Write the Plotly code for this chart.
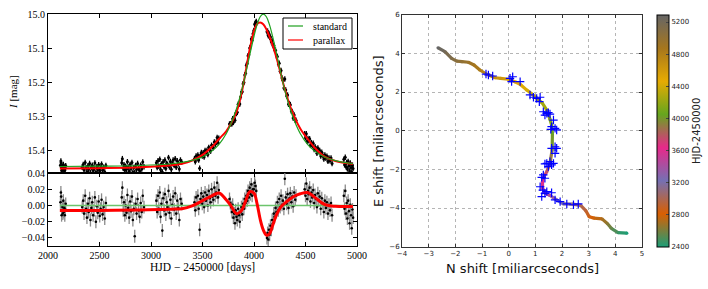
import plotly.graph_objects as go
from plotly.colors import sample_colorscale

W, H = 708, 289

# ---------------- light-curve models ----------------
model_t = [2115, 2500, 2900, 3200, 3300, 3400, 3500, 3590, 3660, 3730,
           3780, 3830, 3880, 3920, 3960, 4000, 4030, 4060, 4090, 4120,
           4150, 4180, 4220, 4260, 4300, 4350, 4400, 4450, 4520, 4590,
           4690, 4790, 4960]
model_standard = [15.446, 15.445, 15.443, 15.438, 15.434, 15.428, 15.418, 15.401, 15.381, 15.350,
                  15.318, 15.277, 15.224, 15.173, 15.118, 15.065, 15.031, 15.008, 15.000, 15.008,
                  15.031, 15.065, 15.118, 15.173, 15.224, 15.277, 15.318, 15.350, 15.381, 15.401,
                  15.419, 15.429, 15.438]
model_parallax = [15.452, 15.451, 15.4485, 15.4425, 15.438, 15.4285, 15.412, 15.389, 15.3655, 15.343,
                  15.319, 15.287, 15.230, 15.167, 15.101, 15.050, 15.029, 15.025, 15.030, 15.0445,
                  15.066, 15.090, 15.129, 15.175, 15.221, 15.269, 15.306, 15.3355, 15.365, 15.391,
                  15.418, 15.430, 15.439]
resid_parallax = [-0.0062, -0.0061, -0.0055, -0.0045, -0.0040, -0.0005, 0.0060, 0.0120, 0.0155, 0.0070,
                  -0.0010, -0.0100, -0.0060, 0.0060, 0.0170, 0.0150, 0.0020, -0.0170, -0.0300, -0.0365,
                  -0.0350, -0.0250, -0.0110, -0.0020, 0.0030, 0.0080, 0.0120, 0.0145, 0.0160, 0.0100,
                  0.0010, -0.0010, -0.0012]
resid_standard = [0.0] * len(model_t)

# ---------------- observations (per season) ----------------
s1_t = [2121, 2125, 2128, 2132, 2136, 2140, 2144, 2149, 2153, 2158, 2163, 2168, 2172]
s1_res = [0.004, 0.016, 0.011, -0.012, -0.006, -0.002, -0.010, 0.006, -0.008, -0.003, -0.012, -0.005, 0.002]
s1_mag = [15.442, 15.430, 15.435, 15.458, 15.452, 15.448, 15.456, 15.440, 15.454, 15.449, 15.458, 15.451, 15.444]

s2_t = [2332, 2342, 2350, 2361, 2370, 2378, 2388, 2395, 2404, 2412, 2421, 2430, 2438, 2447, 2455, 2465,
        2474, 2483, 2492, 2502, 2511, 2520, 2530, 2540, 2551, 2562]
s2_res = [-0.002, 0.006, -0.010, 0.012, -0.004, -0.015, 0.002, -0.008, 0.009, -0.018, -0.003, 0.004, -0.012,
          -0.006, 0.010, -0.020, -0.001, -0.009, 0.005, -0.013, -0.004, 0.007, -0.011, -0.002, -0.016, 0.003]
s2_mag = [15.448, 15.440, 15.456, 15.434, 15.450, 15.461, 15.444, 15.454, 15.437, 15.464, 15.449, 15.442, 15.458,
          15.452, 15.436, 15.463, 15.447, 15.455, 15.441, 15.459, 15.450, 15.439, 15.457, 15.448, 15.462, 15.443]

s3_t = [2716, 2722, 2730, 2738, 2746, 2754, 2762, 2771, 2779, 2788, 2797, 2806, 2815, 2824, 2833, 2842,
        2851, 2860, 2870, 2880, 2890, 2900, 2910, 2920, 2932]
s3_res = [0.010, 0.022, -0.006, 0.004, -0.012, 0.000, -0.009, 0.013, -0.003, -0.015, 0.005, -0.007, 0.011,
          -0.018, -0.004, -0.038, 0.002, -0.010, 0.008, -0.006, -0.014, 0.003, -0.008, 0.012, -0.002]
s3_mag = [15.435, 15.423, 15.451, 15.441, 15.457, 15.445, 15.454, 15.432, 15.448, 15.460, 15.440, 15.452, 15.434,
          15.463, 15.449, 15.464, 15.443, 15.455, 15.437, 15.451, 15.459, 15.442, 15.453, 15.433, 15.447]

s4_t = [3052, 3060, 3068, 3076, 3085, 3093, 3101, 3110, 3118, 3127, 3135, 3144, 3152, 3161, 3170, 3179,
        3188, 3197, 3206, 3215, 3225, 3235, 3245, 3255, 3265, 3275, 3286, 3298]
s4_res = [0.006, -0.008, 0.012, -0.004, 0.016, -0.014, 0.002, -0.031, 0.009, -0.006, 0.014, -0.011, 0.004,
          -0.002, 0.018, -0.009, 0.007, -0.016, 0.001, 0.011, -0.005, 0.015, -0.010, 0.006, -0.003, -0.018,
          0.008, 0.002]
s4_mag = [15.435, 15.449, 15.429, 15.445, 15.425, 15.455, 15.439, 15.462, 15.432, 15.447, 15.427, 15.452, 15.437,
          15.440, 15.420, 15.447, 15.431, 15.454, 15.437, 15.427, 15.443, 15.423, 15.448, 15.429, 15.438, 15.453,
          15.427, 15.433]

s5_t = [3422, 3430, 3438, 3446, 3455, 3463, 3472, 3480, 3489, 3498, 3507, 3516, 3525, 3534, 3543, 3552,
        3561, 3570, 3579, 3588, 3597, 3606, 3615, 3624, 3633, 3642, 3651, 3658]
s5_res = [0.004, -0.006, 0.010, 0.001, 0.012, -0.004, -0.030, 0.008, 0.015, 0.002, 0.011, -0.002, 0.016,
          0.006, 0.013, 0.000, 0.018, 0.009, 0.004, 0.020, 0.011, 0.007, 0.022, 0.012, 0.016, 0.028, 0.010, 0.019]
s5_mag = [15.423, 15.432, 15.415, 15.423, 15.412, 15.427, 15.451, 15.413, 15.405, 15.415, 15.406, 15.418, 15.399,
          15.406, 15.399, 15.411, 15.390, 15.397, 15.401, 15.384, 15.388, 15.391, 15.374, 15.381, 15.375, 15.361,
          15.376, 15.363]

s6_t = [3762, 3770, 3778, 3786, 3793, 3800, 3808, 3815, 3822, 3830, 3838, 3846, 3854, 3862, 3870, 3878,
        3886, 3894, 3902, 3910, 3918, 3926, 3934, 3942, 3950, 3958, 3966, 3974, 3982, 3990, 3998, 4006,
        4014, 4022]
s6_res = [0.008, 0.003, -0.002, -0.008, 0.001, -0.015, -0.010, -0.022, -0.006, -0.014, -0.018, -0.004, -0.012,
          -0.020, -0.008, -0.002, -0.011, 0.002, -0.004, 0.008, 0.003, 0.012, 0.006, 0.018, 0.010, 0.022, 0.014,
          0.026, 0.012, 0.020, 0.020, 0.028, 0.024, 0.018]
s6_mag = [15.322, 15.321, 15.321, 15.321, 15.306, 15.317, 15.305, 15.311, 15.290, 15.291, 15.287, 15.264, 15.264,
          15.263, 15.243, 15.228, 15.227, 15.204, 15.200, 15.178, 15.173, 15.150, 15.145, 15.122, 15.119, 15.099,
          15.096, 15.073, 15.077, 15.058, 15.048, 15.030, 15.025, 15.022]

s7_t = [4126, 4132, 4138, 4145, 4152, 4160, 4168, 4176, 4184, 4192, 4200, 4209, 4218, 4227, 4236, 4245,
        4254, 4263, 4272, 4281, 4290, 4299, 4308, 4317, 4326, 4335, 4344, 4353, 4362, 4371, 4380, 4390,
        4400, 4408]
s7_res = [-0.040, -0.034, -0.042, -0.030, -0.036, -0.025, -0.030, -0.018, -0.022, -0.010, -0.014, -0.003,
          -0.008, 0.004, -0.006, 0.008, -0.002, 0.012, 0.001, 0.006, -0.004, 0.033, 0.010, 0.002, 0.014,
          -0.003, 0.009, 0.015, 0.004, 0.011, -0.001, 0.016, 0.007, 0.012]
s7_mag = [15.052, 15.050, 15.063, 15.057, 15.069, 15.067, 15.081, 15.078, 15.092, 15.091, 15.105, 15.106,
          15.123, 15.124, 15.146, 15.144, 15.167, 15.165, 15.187, 15.194, 15.216, 15.190, 15.222, 15.240,
          15.237, 15.264, 15.262, 15.265, 15.284, 15.285, 15.304, 15.295, 15.311, 15.311]

s8_t = [4492, 4500, 4508, 4516, 4524, 4532, 4540, 4548, 4557, 4566, 4575, 4584, 4593, 4602, 4611, 4620,
        4629, 4638, 4648, 4658, 4668, 4678, 4688, 4698, 4708, 4718, 4728, 4738, 4748, 4758]
s8_res = [0.020, 0.012, 0.027, 0.008, 0.018, 0.014, 0.022, 0.005, 0.016, 0.010, 0.019, 0.003, 0.013, 0.008,
          -0.002, 0.015, 0.006, 0.011, -0.004, 0.009, 0.002, -0.008, 0.006, -0.003, 0.004, -0.010, 0.001,
          -0.006, 0.003, -0.012]
s8_mag = [15.350, 15.362, 15.350, 15.372, 15.364, 15.371, 15.365, 15.384, 15.376, 15.385, 15.378, 15.396,
          15.388, 15.395, 15.407, 15.392, 15.402, 15.399, 15.415, 15.404, 15.413, 15.424, 15.412, 15.422,
          15.416, 15.431, 15.421, 15.429, 15.421, 15.437]

s9_t = [4872, 4879, 4886, 4893, 4900, 4907, 4914, 4921, 4928, 4935, 4942, 4949, 4956, 4962]
s9_res = [0.012, -0.004, 0.018, -0.010, 0.003, -0.016, 0.006, -0.007, -0.022, 0.001, -0.012, -0.028, -0.005, -0.015]
s9_mag = [15.425, 15.441, 15.419, 15.447, 15.434, 15.453, 15.431, 15.444, 15.459, 15.436, 15.449, 15.463, 15.442, 15.452]

obs_t = s1_t + s2_t + s3_t + s4_t + s5_t + s6_t + s7_t + s8_t + s9_t
obs_mag = s1_mag + s2_mag + s3_mag + s4_mag + s5_mag + s6_mag + s7_mag + s8_mag + s9_mag
obs_res = s1_res + s2_res + s3_res + s4_res + s5_res + s6_res + s7_res + s8_res + s9_res

# ---------------- astrometric trajectory ----------------
traj_t = [2400, 2470, 2560, 2640, 2720, 2790, 2850, 2920, 3010, 3100, 3190, 3290, 3400, 3480,
          3560, 3630, 3690, 3760, 3850, 3960, 4060, 4110, 4160, 4220, 4270, 4320, 4370, 4410,
          4460, 4510, 4570, 4630, 4680, 4760, 4830, 4890, 4950, 5010, 5060, 5120, 5200, 5290]
traj_n = [4.43, 4.10, 3.85, 3.70, 3.50, 3.20, 3.02, 2.90, 2.70, 2.40, 2.05, 1.80, 1.55, 1.36,
          1.27, 1.27, 1.31, 1.43, 1.55, 1.63, 1.64, 1.61, 1.55, 1.43, 1.25, 1.05, 0.85, 0.68,
          0.45, 0.24, -0.01, -0.30, -0.51, -0.82, -1.08, -1.30, -1.51, -1.75, -1.95, -2.14, -2.39, -2.65]
traj_e = [-5.30, -5.27, -5.05, -4.80, -4.56, -4.52, -4.45, -4.15, -3.86, -3.80, -3.79, -3.58, -3.35, -3.22,
          -2.98, -2.62, -2.40, -2.12, -1.69, -1.00, -0.14, 0.30, 0.59, 1.07, 1.45, 1.68, 1.92, 2.10,
          2.38, 2.53, 2.66, 2.71, 2.74, 2.92, 3.14, 3.40, 3.54, 3.57, 3.60, 3.74, 4.09, 4.29]

astro_n = [-0.85, -0.76, -0.60, 0.05, 0.15, 0.11, 0.43, 0.80, 0.93, 1.05, 1.18, 1.15, 1.30, 1.43, 1.49,
           1.36, 1.55, 1.68, 1.61, 1.74, 1.58, 1.80, 1.74, 1.80, 1.61, 1.74, 1.43, 1.55, 1.61, 1.49,
           1.68, 1.36, 1.30, 1.36, 1.24, 1.18, 1.28, 1.36, 1.24, 1.43, 1.61, 1.74, 1.93, 2.18, 2.43, 2.61]
astro_e = [2.93, 2.88, 2.83, 2.71, 2.79, 2.54, 2.54, 1.85, 1.73, 1.67, 1.73, 1.50, 0.98, 0.90, 0.93,
           0.81, 0.86, 0.55, 0.21, 0.12, 0.07, 0.04, -0.83, -0.91, -0.91, -1.17, -1.69, -1.60, -1.77, -1.86,
           -1.69, -1.72, -2.29, -2.46, -2.41, -2.90, -3.07, -3.24, -3.41, -3.15, -3.21, -3.58, -3.67, -3.79,
           -3.83, -3.79]

cbar_ticks = [2400, 2800, 3200, 3600, 4000, 4400, 4800, 5200]
cmin, cmax = 2400, 5290
dark2 = ['#1b9e77', '#d95f02', '#7570b3', '#e7298a', '#66a61e', '#e6ab02', '#a6761d', '#666666']
colorscale = [[i / (len(dark2) - 1), c] for i, c in enumerate(dark2)]

SERIF = "Liberation Serif"
SANS = "DejaVu Sans"
GREEN = "#1fa01f"

fig = go.Figure()

# top panel: data
fig.add_trace(go.Scatter(x=obs_t, y=obs_mag, mode="markers", xaxis="x", yaxis="y",
                         marker=dict(color="black", size=3),
                         error_y=dict(type="constant", value=0.008, color="black", thickness=1.3, width=0),
                         showlegend=False))
fig.add_trace(go.Scatter(x=model_t, y=model_parallax, mode="lines", xaxis="x", yaxis="y",
                         line=dict(color="#ff0000", width=2, shape="spline"), showlegend=False))
fig.add_trace(go.Scatter(x=model_t, y=model_standard, mode="lines", xaxis="x", yaxis="y",
                         line=dict(color=GREEN, width=1.2, shape="spline"), showlegend=False))

# bottom panel: residuals
fig.add_trace(go.Scatter(x=obs_t, y=obs_res, mode="markers", xaxis="x2", yaxis="y2",
                         marker=dict(color="black", size=2.6),
                         error_y=dict(type="constant", value=0.008, color="#8a8a8a", thickness=1.3, width=0),
                         showlegend=False))
fig.add_trace(go.Scatter(x=model_t, y=resid_standard, mode="lines", xaxis="x2", yaxis="y2",
                         line=dict(color="#6cc46c", width=1.5), showlegend=False))
fig.add_trace(go.Scatter(x=model_t, y=resid_parallax, mode="lines", xaxis="x2", yaxis="y2",
                         line=dict(color="#ff0000", width=3, shape="spline"), showlegend=False))

# right panel: trajectory segments
span = cmax - cmin
for i in range(len(traj_t) - 1):
    mid = 0.5 * (traj_t[i] + traj_t[i + 1])
    col = sample_colorscale(colorscale, [(mid - cmin) / span])[0]
    fig.add_trace(go.Scatter(x=traj_n[i:i + 2], y=traj_e[i:i + 2], mode="lines",
                             xaxis="x3", yaxis="y3", line=dict(color=col, width=3.2),
                             hoverinfo="skip", showlegend=False))
fig.add_trace(go.Scatter(
    x=traj_n, y=traj_e, mode="markers", xaxis="x3", yaxis="y3", showlegend=False,
    marker=dict(size=3.2, color=traj_t, colorscale=colorscale, cmin=cmin, cmax=cmax,
                showscale=True,
                colorbar=dict(x=657 / W, xanchor="left", y=1 - 130.8 / H, yanchor="middle",
                              len=232 / H, lenmode="fraction", thickness=12, xpad=0, ypad=0,
                              outlinecolor="black", outlinewidth=1,
                              tickvals=cbar_ticks, ticks="inside", ticklen=3,
                              tickfont=dict(family=SANS, size=7, color="#222"),
                              title=dict(text="HJD-2450000", side="right",
                                         font=dict(family=SANS, size=10, color="#222"))))))
fig.add_trace(go.Scatter(x=astro_n, y=astro_e, mode="markers", xaxis="x3", yaxis="y3",
                         marker=dict(symbol="cross-thin", size=6, color="blue",
                                     line=dict(color="blue", width=1.2)),
                         showlegend=False))

left_dom = [48 / W, 357 / W]
common_left = dict(showline=True, linecolor="black", linewidth=1, mirror="ticks",
                   ticks="inside", ticklen=4, tickcolor="black", zeroline=False, showgrid=False,
                   tickfont=dict(family=SERIF, size=10, color="black"))
common_right = dict(showline=True, linecolor="#333", linewidth=1, mirror="ticks",
                    ticks="inside", ticklen=3, tickcolor="#333", zeroline=False, showgrid=True,
                    gridcolor="#b5b5b5", griddash="dot", gridwidth=1,
                    tickfont=dict(family=SANS, size=7, color="#222"))

fig.update_layout(
    width=W, height=H, margin=dict(l=0, r=0, t=0, b=0, autoexpand=False),
    paper_bgcolor="white", plot_bgcolor="white", showlegend=False,
    xaxis=dict(domain=left_dom, anchor="y", range=[2000, 5000], dtick=500,
               showticklabels=False, **common_left),
    yaxis=dict(domain=[1 - 173 / H, 1 - 14 / H], anchor="x", range=[15.465, 14.9999],
               tickvals=[15.0, 15.1, 15.2, 15.3, 15.4], tickformat=".1f", **common_left),
    xaxis2=dict(domain=left_dom, anchor="y2", range=[2000, 5000], dtick=500, **common_left),
    yaxis2=dict(domain=[1 - 246 / H, 1 - 173 / H], anchor="x2", range=[-0.05, 0.0401],
                tickvals=[-0.04, -0.02, 0.0, 0.02, 0.04], tickformat=".2f", **common_left),
    xaxis3=dict(domain=[402 / W, 642 / W], anchor="y3", range=[-4, 5], dtick=1, **common_right),
    yaxis3=dict(domain=[1 - 246.7 / H, 1 - 14.7 / H], anchor="x3", range=[-6, 6], dtick=2,
                **common_right),
)


def note(text, px, py, font, angle=0, xanchor="center"):
    fig.add_annotation(text=text, x=px / W, y=1 - py / H, xref="paper", yref="paper",
                       xanchor=xanchor, yanchor="middle", showarrow=False, textangle=angle,
                       font=font)


# axis titles
note("HJD − 2450000 [days]", 202.5, 267, dict(family=SERIF, size=11.5, color="black"))
note("<i>I</i> [mag]", 13, 92, dict(family=SERIF, size=11, color="black"), angle=-90)
note("N shift [miliarcseconds]", 522, 268, dict(family=SANS, size=13, color="#111"))
note("E shift [miliarcseconds]", 378, 131, dict(family=SANS, size=13, color="#111"), angle=-90)

# legend box
fig.add_shape(type="rect", xref="paper", yref="paper", x0=283 / W, x1=352 / W, y0=1 - 49 / H, y1=1 - 18 / H,
              line=dict(color="black", width=1), fillcolor="white", layer="above")
fig.add_shape(type="line", xref="paper", yref="paper", x0=288 / W, x1=303 / W, y0=1 - 26 / H, y1=1 - 26 / H,
              line=dict(color=GREEN, width=1.2), layer="above")
fig.add_shape(type="line", xref="paper", yref="paper", x0=288 / W, x1=303 / W, y0=1 - 40 / H, y1=1 - 40 / H,
              line=dict(color="#ff0000", width=1.2), layer="above")
note("standard", 311, 26, dict(family=SERIF, size=10, color="black"), xanchor="left")
note("parallax", 311, 40, dict(family=SERIF, size=10, color="black"), xanchor="left")

fig.write_html("out.html", config={"displayModeBar": False},
               post_script="document.body.style.margin='0px';document.body.style.overflow='hidden';")
